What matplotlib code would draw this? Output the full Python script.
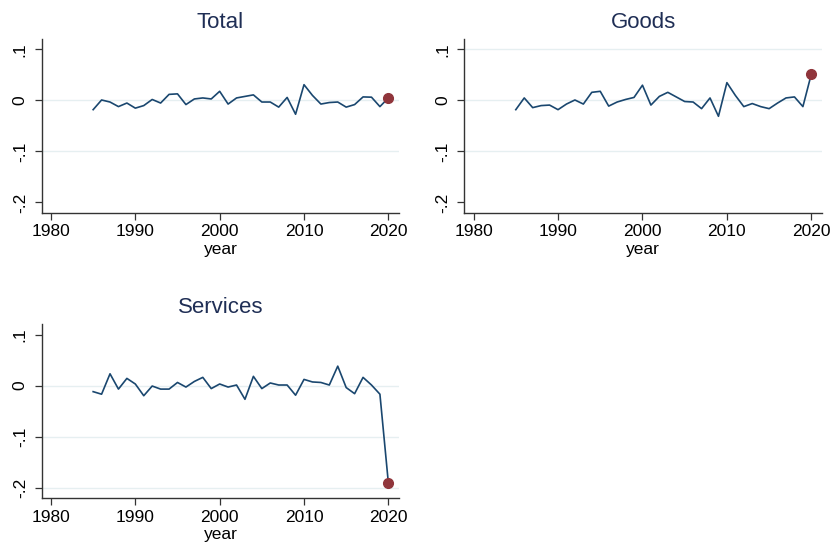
import matplotlib
matplotlib.use('Agg')
import matplotlib.pyplot as plt
import numpy as np

plt.rcParams['font.family'] = ['Liberation Sans', 'DejaVu Sans']

# Growth deviations by year, 1985-2020
years = np.arange(1985, 2021)

total = [-0.018, 0.001, -0.003, -0.012, -0.005, -0.015, -0.010, 0.002, -0.005, 0.012,
         0.013, -0.008, 0.003, 0.005, 0.003, 0.018, -0.007, 0.005, 0.008, 0.011,
         -0.003, -0.003, -0.013, 0.006, -0.027, 0.031, 0.010, -0.007, -0.004, -0.003,
         -0.013, -0.008, 0.007, 0.0065, -0.012, 0.005]

goods = [-0.018, 0.005, -0.014, -0.010, -0.009, -0.018, -0.007, 0.001, -0.007, 0.016,
         0.018, -0.011, -0.003, 0.002, 0.006, 0.030, -0.009, 0.008, 0.016, 0.007,
         -0.002, -0.003, -0.016, 0.005, -0.031, 0.035, 0.010, -0.012, -0.006, -0.012,
         -0.016, -0.005, 0.005, 0.007, -0.012, 0.052]

services = [-0.012, -0.017, 0.023, -0.007, 0.014, 0.003, -0.020, -0.001, -0.007, -0.007,
            0.006, -0.003, 0.008, 0.016, -0.006, 0.003, -0.003, 0.001, -0.027, 0.018,
            -0.006, 0.005, 0.001, 0.001, -0.019, 0.012, 0.007, 0.006, 0.001, 0.038,
            -0.004, -0.016, 0.016, 0.001, -0.017, -0.191]

titles = ['Total', 'Goods', 'Services']
series = [total, goods, services]
# gridlines drawn in each panel (none at the axis extremes of its own range)
grids = [[0, -0.1], [0.1, 0, -0.1], [0, -0.1, -0.2]]

yticks = [0.1, 0, -0.1, -0.2]
ytick_labels = ['.1', '0', '-.1', '-.2']
xticks = [1980, 1990, 2000, 2010, 2020]

line_color = '#1a476f'
dot_color = '#90353b'
title_color = '#1f2e55'
grid_color = '#e6eff1'

fig = plt.figure(figsize=(8.34, 5.42), dpi=100)
fig.patch.set_facecolor('white')

positions = [
    [0.050, 0.6076, 0.4288, 0.3199],
    [0.5567, 0.6076, 0.4293, 0.3199],
    [0.050, 0.0817, 0.4288, 0.3199],
]

for pos, title, vals, glines in zip(positions, titles, series, grids):
    ax = fig.add_axes(pos)
    for g in glines:
        ax.axhline(g, color=grid_color, linewidth=1.0, zorder=0)
    ax.plot(years, vals, color=line_color, linewidth=1.2, zorder=2)
    ax.plot(years[-1], vals[-1], 'o', color=dot_color, markersize=7, zorder=3)

    ax.set_xlim(1978.9, 2021.3)
    ax.set_ylim(-0.22, 0.12)
    ax.set_xticks(xticks)
    ax.set_yticks(yticks)
    ax.set_yticklabels(ytick_labels, rotation=90, va='center')
    ax.tick_params(axis='both', labelsize=12.5, length=5, width=0.9,
                   color='#333333', labelcolor='black', direction='out')
    ax.tick_params(axis='y', pad=5)
    ax.set_xlabel('year', fontsize=12.5, labelpad=2)
    ax.set_title(title, fontsize=16, color=title_color, pad=8)

    for side in ['top', 'right']:
        ax.spines[side].set_visible(False)
    for side in ['left', 'bottom']:
        ax.spines[side].set_color('#333333')
        ax.spines[side].set_linewidth(1.0)

fig.savefig('out.png', dpi=100, facecolor='white')
